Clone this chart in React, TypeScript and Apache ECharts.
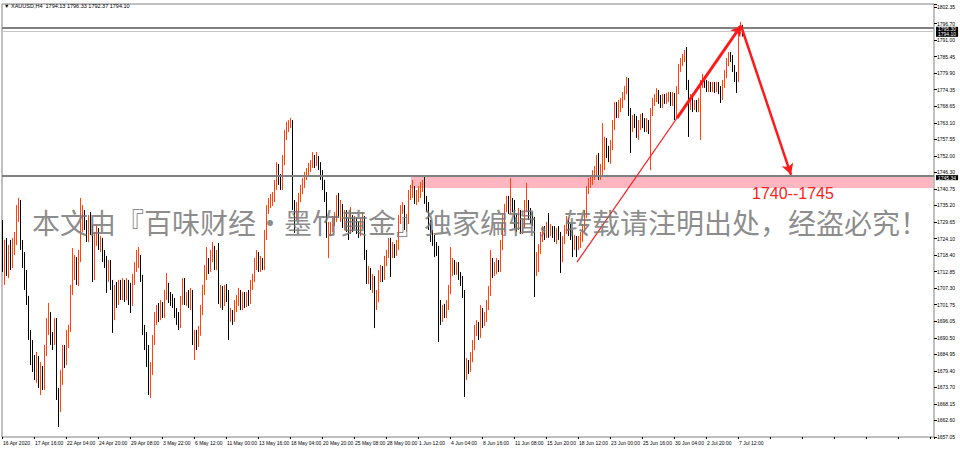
import React, { useEffect, useRef } from 'react';
import * as echarts from 'echarts';

const timeLabels = [
  '16 Apr 2020', '17 Apr 16:00', '22 Apr 04:00', '24 Apr 20:00', '29 Apr 08:00', '3 May 22:00',
  '6 May 12:00', '11 May 00:00', '13 May 16:00', '18 May 04:00', '20 May 20:00', '25 May 08:00',
  '28 May 00:00', '1 Jun 12:00', '4 Jun 04:00', '8 Jun 16:00', '11 Jun 08:00', '15 Jun 20:00',
  '18 Jun 12:00', '23 Jun 00:00', '25 Jun 16:00', '30 Jun 04:00', '2 Jul 20:00', '7 Jul 12:00',
];

const priceTicks = [
  '1657.05', '1662.60', '1668.15', '1673.70', '1679.40', '1684.95', '1690.50', '1696.05', '1701.75',
  '1707.30', '1712.85', '1718.40', '1724.10', '1729.65', '1735.20', '1740.75', '1746.30', '1752.00',
  '1757.55', '1763.10', '1768.65', '1774.35', '1779.90', '1785.45', '1791.00', '1796.70', '1802.35',
];

// [open, close, low, high]
const barsApr = [
  [1727.6,1715.1,1712.8,1730.3],[1715.1,1721.9,1708.4,1723.6],[1721.9,1713.4,1711.4,1724.3],[1713.4,1720.2,1710.7,1721.9],
  [1720.2,1716.1,1713.4,1723.6],[1716.1,1721.9,1714.1,1724.3],[1721.9,1724.3,1718.5,1726.3],[1724.3,1732.0,1721.9,1735.4],
  [1732.0,1736.1,1729.7,1737.8],[1736.1,1721.9,1720.2,1737.1],[1721.9,1717.5,1714.1,1723.6],[1717.5,1711.8,1706.7,1719.5],
  [1711.8,1703.3,1701.6,1713.4],[1703.3,1691.5,1689.8,1704.7],[1691.5,1684.7,1681.3,1693.2],[1684.7,1682.3,1679.0,1689.8],
  [1682.3,1680.3,1676.3,1684.7],[1680.3,1683.0,1675.3,1685.7],[1683.0,1674.9,1673.6,1684.4],[1674.9,1679.0,1671.2,1682.3],
  [1679.0,1674.6,1672.9,1681.0],[1674.6,1685.7,1672.9,1688.1],[1685.7,1693.2,1684.4,1697.2],[1693.2,1697.9,1691.5,1702.3],
  [1697.9,1690.5,1688.1,1699.2],[1690.5,1689.8,1686.4,1692.5],[1689.8,1695.9,1688.1,1697.2],[1695.9,1671.2,1669.5,1697.2],
  [1671.2,1666.8,1660.4,1673.6],[1666.8,1676.3,1665.4,1679.6],[1676.3,1684.7,1674.6,1688.1],[1684.7,1683.0,1680.3,1688.1],
  [1683.0,1689.8,1681.3,1693.2],[1689.8,1693.8,1687.1,1694.9],[1693.8,1706.7,1692.5,1708.4],[1706.7,1715.1,1705.0,1720.9],
  [1715.1,1716.1,1710.1,1718.5],[1716.1,1710.1,1708.4,1717.8],[1710.1,1717.5,1708.0,1720.2],[1717.5,1727.6,1716.1,1737.8],
  [1727.6,1732.0,1726.3,1735.4],[1732.0,1728.7,1727.0,1733.7],[1728.7,1724.3,1722.9,1730.3],[1724.3,1730.3,1722.9,1732.0],
  [1730.3,1727.6,1725.3,1733.0],[1727.6,1710.7,1709.4,1728.7],[1710.7,1723.6,1710.1,1726.3],[1723.6,1727.0,1721.6,1728.7],
  [1727.0,1721.9,1720.2,1727.6],[1721.9,1722.9,1719.5,1724.9],[1722.9,1718.5,1716.1,1724.3],[1718.5,1716.1,1714.1,1720.2],
  [1716.1,1710.7,1705.7,1718.2],[1710.7,1715.1,1709.4,1716.8],[1715.1,1709.1,1706.7,1716.8],[1709.1,1698.2,1692.2,1710.1],
  [1698.2,1706.7,1696.5,1708.4],[1706.7,1703.3,1700.6,1709.4],[1703.3,1708.4,1701.6,1710.1],[1708.4,1705.0,1703.3,1710.1],
  [1705.0,1708.4,1703.3,1710.7],[1708.4,1704.7,1702.6,1710.1],[1704.7,1708.7,1703.3,1710.7],[1708.7,1704.0,1701.6,1710.1],
  [1704.0,1702.6,1698.9,1709.1],[1702.6,1710.1,1701.3,1712.1],[1710.1,1714.1,1708.4,1716.1],[1714.1,1716.1,1712.8,1720.2],
  [1716.1,1716.8,1714.1,1721.2],[1716.8,1710.7,1709.4,1718.5],[1710.7,1693.2,1691.5,1711.8],[1693.2,1689.8,1686.4,1694.9],
  [1689.8,1686.4,1680.7,1692.5],[1686.4,1672.9,1671.2,1688.1],
];

const barsMay = [
  [1672.9,1679.6,1670.2,1682.3],[1679.6,1689.8,1678.0,1691.5],[1689.8,1697.2,1688.1,1699.2],[1697.2,1699.2,1694.9,1701.6],
  [1699.2,1697.9,1695.9,1702.3],[1697.9,1700.6,1696.5,1703.3],[1700.6,1698.9,1697.2,1702.6],[1698.9,1704.7,1697.2,1706.7],
  [1704.7,1707.4,1703.3,1712.4],[1707.4,1704.0,1702.3,1709.1],[1704.0,1703.3,1701.3,1706.0],[1703.3,1702.6,1700.6,1705.3],
  [1702.6,1699.2,1697.2,1704.0],[1699.2,1697.2,1694.9,1700.6],[1697.2,1695.5,1693.2,1699.2],[1695.5,1703.3,1693.8,1704.7],
  [1703.3,1709.4,1701.6,1710.7],[1709.4,1703.3,1701.6,1710.7],[1703.3,1704.0,1701.3,1706.0],[1704.0,1702.3,1700.6,1706.7],
  [1702.3,1705.3,1699.9,1707.4],[1705.3,1689.8,1688.1,1706.7],[1689.8,1691.2,1683.0,1693.2],[1691.2,1689.1,1686.4,1693.2],
  [1689.1,1692.5,1687.4,1694.5],[1692.5,1699.9,1691.2,1701.6],[1699.9,1706.7,1698.2,1708.4],[1706.7,1711.8,1705.0,1715.1],
  [1711.8,1715.5,1710.1,1721.2],[1715.5,1714.1,1712.1,1717.5],[1714.1,1718.2,1712.8,1720.2],[1718.2,1719.5,1716.1,1722.9],
  [1719.5,1715.1,1713.4,1721.6],[1715.1,1717.5,1713.4,1720.2],[1717.5,1703.3,1702.0,1722.6],[1703.3,1706.0,1700.6,1708.4],
  [1706.0,1702.3,1699.9,1708.0],[1702.3,1706.7,1701.3,1708.4],[1706.7,1704.7,1702.6,1708.7],[1704.7,1697.2,1689.8,1706.7],
  [1697.2,1698.6,1695.9,1700.6],[1698.6,1697.2,1694.9,1699.9],[1697.2,1701.3,1695.9,1703.3],[1701.3,1703.3,1699.2,1705.0],
  [1703.3,1705.3,1701.3,1707.4],[1705.3,1701.6,1699.9,1706.7],[1701.6,1704.3,1699.9,1706.0],[1704.3,1702.3,1700.6,1706.0],
  [1702.3,1704.7,1700.9,1706.0],[1704.7,1703.3,1701.3,1706.7],[1703.3,1708.4,1702.0,1710.1],[1708.4,1710.7,1706.7,1712.1],
  [1710.7,1715.1,1709.4,1717.5],[1715.1,1718.2,1713.4,1720.2],[1718.2,1714.1,1712.8,1719.5],[1714.1,1716.1,1712.8,1718.2],
  [1716.1,1714.8,1713.4,1717.5],[1714.8,1725.3,1713.4,1727.0],[1725.3,1733.7,1723.6,1735.4],[1733.7,1735.8,1732.4,1737.8],
  [1735.8,1737.1,1734.4,1739.1],[1737.1,1737.8,1735.1,1739.8],[1737.8,1742.2,1736.4,1743.9],[1742.2,1747.9,1740.5,1749.9],
  [1747.9,1743.9,1742.2,1749.3],[1743.9,1741.8,1740.5,1745.9],[1741.8,1750.6,1740.5,1752.3],[1750.6,1759.1,1748.9,1760.8],
  [1759.1,1761.4,1757.4,1763.5],[1761.4,1762.8,1760.1,1764.1],[1762.8,1763.5,1761.4,1764.8],[1763.5,1735.4,1733.7,1764.1],
  [1735.4,1732.4,1726.0,1737.1],[1732.4,1734.4,1730.3,1736.4],[1734.4,1737.8,1733.0,1739.5],[1737.8,1740.5,1736.4,1742.2],
  [1740.5,1742.5,1739.1,1744.5],[1742.5,1745.2,1741.2,1746.6],[1745.2,1746.6,1743.9,1747.9],[1746.6,1747.9,1745.2,1749.6],
  [1747.9,1748.9,1746.6,1750.6],[1748.9,1750.6,1747.9,1753.3],[1750.6,1749.6,1747.9,1752.3],[1749.6,1750.6,1748.6,1753.3],
  [1750.6,1748.6,1747.2,1752.0],[1748.6,1745.6,1743.9,1749.9],[1745.6,1742.2,1740.5,1747.2],[1742.2,1737.8,1736.4,1743.9],
  [1737.8,1726.3,1724.3,1739.8],[1726.3,1727.0,1717.5,1729.7],[1727.0,1727.6,1724.9,1729.7],[1727.6,1729.7,1726.3,1731.7],
  [1729.7,1731.0,1728.3,1733.0],[1731.0,1735.4,1729.7,1738.8],[1735.4,1733.0,1731.0,1739.5],[1733.0,1734.4,1729.7,1737.1],
  [1734.4,1729.7,1727.6,1735.8],[1729.7,1732.0,1727.0,1733.7],[1732.0,1728.3,1726.3,1733.7],[1728.3,1727.0,1723.6,1731.0],
  [1727.0,1729.7,1725.6,1734.7],[1729.7,1728.3,1726.3,1732.0],[1728.3,1729.7,1727.0,1731.7],[1729.7,1727.6,1725.6,1731.0],
  [1727.6,1726.3,1724.3,1729.7],[1726.3,1729.7,1724.9,1731.0],[1729.7,1730.3,1727.6,1733.0],[1730.3,1718.5,1716.8,1731.7],
  [1718.5,1710.7,1708.7,1720.2],[1710.7,1712.8,1708.7,1714.8],[1712.8,1708.7,1706.7,1714.1],[1708.7,1710.1,1705.7,1712.1],
  [1710.1,1702.0,1693.8,1711.4],[1702.0,1704.0,1699.9,1706.7],[1704.0,1711.8,1702.6,1713.4],[1711.8,1713.4,1709.4,1715.1],
  [1713.4,1711.4,1709.4,1714.8],[1711.4,1716.1,1710.1,1718.2],[1716.1,1718.9,1714.8,1720.2],[1718.9,1722.9,1717.5,1724.3],
  [1722.9,1720.2,1711.1,1724.3],[1720.2,1720.9,1717.5,1722.9],[1720.9,1719.5,1717.5,1722.2],[1719.5,1721.9,1718.2,1723.6],
  [1721.9,1730.3,1720.2,1732.0],[1730.3,1733.7,1729.0,1735.4],[1733.7,1734.4,1732.4,1736.4],[1734.4,1728.7,1727.0,1735.4],
  [1728.7,1730.3,1726.3,1732.4],[1730.3,1738.8,1729.0,1740.5],[1738.8,1739.8,1737.1,1742.2],
];

const barsJun = [
  [1739.8,1740.5,1737.8,1743.9],[1740.5,1737.1,1735.8,1741.8],[1737.1,1738.5,1735.4,1740.5],[1738.5,1739.8,1736.4,1741.8],
  [1739.8,1741.2,1737.8,1743.2],[1741.2,1742.2,1739.8,1743.9],[1742.2,1737.1,1735.8,1744.9],[1737.1,1735.1,1733.0,1738.5],
  [1735.1,1728.7,1727.0,1736.4],[1728.7,1724.9,1722.9,1730.3],[1724.9,1723.6,1721.6,1727.0],[1723.6,1720.9,1717.8,1725.3],
  [1720.9,1720.2,1718.2,1722.9],[1720.2,1700.6,1689.1,1721.6],[1700.6,1697.2,1694.9,1703.3],[1697.2,1699.9,1695.9,1701.6],
  [1699.9,1698.9,1697.2,1702.0],[1698.9,1701.6,1697.2,1703.3],[1701.6,1706.7,1699.9,1708.4],[1706.7,1714.1,1705.3,1721.2],
  [1714.1,1715.1,1711.4,1717.5],[1715.1,1713.4,1711.8,1716.8],[1713.4,1714.8,1711.8,1716.1],[1714.8,1711.4,1710.1,1716.1],
  [1711.4,1710.1,1708.0,1712.8],[1710.1,1705.7,1704.0,1711.4],[1705.7,1679.0,1670.5,1706.7],[1679.0,1681.3,1676.3,1683.7],
  [1681.3,1680.3,1678.3,1683.0],[1680.3,1683.7,1679.0,1685.7],[1683.7,1688.1,1682.3,1689.8],[1688.1,1692.5,1686.4,1694.9],
  [1692.5,1693.8,1691.2,1696.5],[1693.8,1692.2,1689.8,1695.9],[1692.2,1699.2,1690.5,1701.6],[1699.2,1695.9,1693.8,1700.6],
  [1695.9,1697.2,1694.5,1699.2],[1697.2,1701.6,1695.9,1703.3],[1701.6,1706.0,1699.9,1708.0],[1706.0,1715.1,1704.7,1720.2],
  [1715.1,1712.8,1710.7,1717.5],[1712.8,1714.1,1711.4,1716.1],[1714.1,1715.5,1712.1,1717.5],[1715.5,1714.1,1712.8,1716.8],
  [1714.1,1721.9,1712.8,1723.6],[1721.9,1727.6,1720.2,1732.7],[1727.6,1734.4,1726.3,1735.8],[1734.4,1737.1,1733.0,1738.5],
  [1737.1,1733.7,1732.4,1738.5],[1733.7,1735.8,1732.4,1744.5],[1735.8,1735.1,1733.0,1737.8],[1735.1,1730.3,1727.6,1737.1],
  [1730.3,1728.3,1726.3,1732.4],[1728.3,1732.4,1727.0,1734.4],[1732.4,1727.6,1725.6,1733.7],[1727.6,1728.7,1725.6,1731.0],
  [1728.7,1734.4,1727.6,1737.1],[1734.4,1735.4,1733.0,1742.8],[1735.4,1732.4,1730.3,1737.1],[1732.4,1731.0,1729.0,1734.4],
  [1731.0,1729.7,1728.3,1733.0],[1729.7,1714.1,1704.3,1731.4],[1714.1,1716.1,1711.4,1719.5],[1716.1,1720.2,1712.8,1722.2],
  [1720.2,1724.3,1718.9,1726.3],[1724.3,1726.3,1722.9,1728.3],[1726.3,1725.6,1723.6,1728.3],[1725.6,1727.6,1724.3,1729.7],
  [1727.6,1725.6,1724.3,1732.7],[1725.6,1727.0,1724.9,1729.0],[1727.0,1726.0,1724.3,1728.3],[1726.0,1724.3,1722.9,1728.3],
  [1724.3,1726.3,1722.2,1727.6],[1726.3,1724.9,1723.6,1728.3],[1724.9,1718.2,1712.4,1726.3],[1718.2,1723.6,1716.1,1724.9],
  [1723.6,1727.0,1722.2,1728.7],[1727.0,1729.7,1725.6,1731.7],[1729.7,1727.0,1724.9,1731.0],[1727.0,1725.6,1723.6,1729.0],
  [1725.6,1722.2,1717.8,1727.0],[1722.2,1723.6,1720.2,1725.3],[1723.6,1721.6,1717.8,1724.9],[1721.6,1722.9,1720.2,1724.9],
  [1722.9,1724.3,1720.9,1726.3],[1724.3,1727.6,1722.9,1729.0],[1727.6,1732.0,1726.3,1733.7],[1732.0,1740.5,1731.0,1741.8],
  [1740.5,1742.5,1739.1,1744.5],[1742.5,1743.9,1741.2,1745.6],[1743.9,1745.2,1742.2,1747.2],[1745.2,1746.6,1743.9,1748.6],
  [1746.6,1750.6,1745.2,1752.3],[1750.6,1745.2,1743.9,1753.0],[1745.2,1747.2,1743.9,1749.3],[1747.2,1748.9,1745.2,1763.1],
  [1748.9,1756.7,1747.2,1758.4],[1756.7,1753.3,1751.3,1758.1],[1753.3,1751.3,1749.9,1755.4],[1751.3,1755.4,1749.3,1757.4],
  [1755.4,1762.4,1754.0,1764.1],[1762.4,1768.9,1760.8,1770.2],[1768.9,1766.2,1764.8,1770.2],[1766.2,1768.2,1764.8,1770.9],
  [1768.2,1769.6,1766.8,1771.6],[1769.6,1772.3,1768.2,1773.6],[1772.3,1774.3,1770.9,1775.6],[1774.3,1777.7,1772.9,1778.7],
  [1777.7,1766.8,1765.5,1778.3],[1766.8,1762.1,1753.0,1768.2],[1762.1,1764.1,1760.1,1765.8],[1764.1,1763.5,1761.4,1766.2],
  [1763.5,1759.4,1758.1,1765.5],[1759.4,1762.1,1757.4,1764.1],[1762.1,1764.8,1760.8,1766.2],[1764.8,1762.8,1761.4,1766.5],
  [1762.8,1761.4,1760.1,1764.8],[1761.4,1762.8,1760.1,1764.8],[1762.8,1762.1,1759.4,1764.1],[1762.1,1766.8,1747.2,1768.2],
  [1766.8,1770.2,1765.5,1771.6],[1770.2,1771.6,1768.9,1772.9],[1771.6,1772.9,1770.2,1774.9],[1772.9,1770.9,1769.6,1774.3],
  [1770.9,1769.6,1768.2,1772.6],[1769.6,1771.6,1768.2,1772.9],[1771.6,1770.9,1769.6,1772.9],[1770.9,1771.9,1769.6,1773.3],
  [1771.9,1772.3,1770.2,1773.6],[1772.3,1770.2,1768.9,1773.6],[1770.2,1772.3,1768.9,1773.6],[1772.3,1765.5,1764.1,1773.3],
  [1765.5,1774.3,1764.5,1775.6],[1774.3,1781.7,1772.9,1783.1],[1781.7,1783.7,1780.4,1785.1],
];

const barsJul = [
  [1783.7,1785.1,1782.4,1786.4],[1785.1,1785.8,1783.7,1787.8],[1785.8,1775.6,1774.3,1788.8],[1775.6,1769.6,1758.4,1777.7],
  [1769.6,1771.6,1767.5,1772.9],[1771.6,1768.9,1766.8,1772.6],[1768.9,1769.6,1767.5,1770.9],[1769.6,1768.5,1766.8,1770.9],
  [1768.5,1769.6,1766.8,1771.6],[1769.6,1776.3,1757.4,1777.7],[1776.3,1778.0,1775.0,1779.7],[1778.0,1776.3,1775.0,1779.0],
  [1776.3,1775.0,1773.6,1777.7],[1775.0,1776.0,1773.6,1777.3],[1776.0,1775.0,1773.6,1777.0],[1775.0,1775.6,1773.6,1777.0],
  [1775.6,1775.0,1773.3,1777.0],[1775.0,1775.6,1773.6,1777.0],[1775.6,1774.3,1772.9,1777.0],[1774.3,1771.6,1769.9,1775.6],
  [1771.6,1776.3,1770.9,1777.7],[1776.3,1779.7,1775.0,1781.0],[1779.7,1783.7,1778.3,1785.1],[1783.7,1786.1,1782.4,1787.1],
  [1786.1,1785.1,1783.7,1787.1],[1785.1,1781.7,1780.4,1786.1],[1781.7,1779.0,1777.0,1782.7],[1779.0,1777.7,1773.3,1780.4],
  [1777.7,1794.6,1777.0,1795.9],[1794.6,1795.8,1793.2,1797.3],[1794.13,1794.10,1792.37,1796.33],
];

const resistanceLevel = 1795.3;
const bidLevel = 1794.1;
const supportLevel = 1745.34;
const zoneTop = 1745.3;
const zoneBottom = 1741.2;

const SLOTS = 466;

export default function App() {
  const ref = useRef<HTMLDivElement>(null);
  useEffect(() => {
    const chart = echarts.init(ref.current!, null, { renderer: 'svg' });
    const candles = [...barsApr, ...barsMay, ...barsJun, ...barsJul];
    const categories = Array.from({ length: SLOTS }, (_, i) => String(i));
    const boxLabel = (txt: string, dy: number) => ({
      show: true,
      position: 'end',
      distance: 2,
      offset: [0, dy],
      formatter: txt,
      backgroundColor: '#000',
      color: '#fff',
      fontSize: 5,
      lineHeight: 5,
      fontFamily: 'Liberation Sans',
      padding: [0, 2],
    });
    chart.setOption({
      animation: false,
      backgroundColor: '#fff',
      grid: { left: 2, right: 26, top: 4, bottom: 13, show: true, borderColor: '#808080', borderWidth: 1, backgroundColor: 'transparent' },
      xAxis: {
        type: 'category',
        data: categories,
        boundaryGap: true,
        axisLine: { show: false },
        axisTick: { show: true, interval: 15, length: 2, lineStyle: { color: '#000' } },
        axisLabel: {
          interval: 15,
          align: 'left',
          margin: 3,
          fontSize: 5,
          color: '#000',
          fontFamily: 'Liberation Sans',
          formatter: (_v: string, i: number) => (i % 16 === 0 && timeLabels[i / 16]) || '',
        },
        splitLine: { show: false },
      },
      yAxis: [
        {
          type: 'value',
          position: 'right',
          min: 1657.0,
          max: 1803.35,
          axisLabel: { show: false },
          axisLine: { show: false },
          axisTick: { show: false },
          splitLine: { show: false },
        },
        {
          type: 'value',
          position: 'right',
          min: 0,
          max: 26.18,
          interval: 1,
          axisLine: { show: false },
          axisTick: { show: true, length: 3, lineStyle: { color: '#000' } },
          splitLine: { show: false },
          axisLabel: {
            margin: 3,
            fontSize: 5,
            color: '#000',
            fontFamily: 'Liberation Sans',
            formatter: (v: number) => {
              const k = Math.round(v);
              return Math.abs(v - k) < 0.01 && priceTicks[k] ? priceTicks[k] : '';
            },
          },
        },
      ],
      series: [
        {
          type: 'line',
          data: [],
          z: 1,
          silent: true,
          markArea: {
            silent: true,
            itemStyle: { color: '#ffb6c1', opacity: 1 },
            data: [[{ coord: [204, zoneTop] }, { coord: [SLOTS - 1, zoneBottom] }]],
          },
        },
        {
          type: 'candlestick',
          data: candles,
          barWidth: 1,
          z: 3,
          itemStyle: {
            color: '#ff4500',
            color0: '#000000',
            borderColor: '#ff4500',
            borderColor0: '#000000',
            borderWidth: 1,
          },
          markLine: {
            silent: true,
            symbol: ['none', 'none'],
            animation: false,
            data: [
              {
                yAxis: resistanceLevel,
                lineStyle: { color: '#808080', width: 2, type: 'solid' },
                label: boxLabel(resistanceLevel.toFixed(2) + '\n' + bidLevel.toFixed(2), 4),
              },
              { yAxis: bidLevel, lineStyle: { color: '#c8c8c8', width: 1, type: 'solid' }, label: { show: false } },
              { yAxis: supportLevel, lineStyle: { color: '#808080', width: 2, type: 'solid' }, label: boxLabel(supportLevel.toFixed(2), 2) },
              [
                { coord: [287, 1716.1], symbol: 'none', lineStyle: { color: '#ff1a1a', width: 1.2, type: 'solid' }, label: { show: false } },
                { coord: [369, 1796.0], symbol: 'none' },
              ],
              [
                { coord: [337, 1764.8], symbol: 'none', lineStyle: { color: '#ff1a1a', width: 3, type: 'solid' }, label: { show: false } },
                { coord: [369, 1796.0], symbol: 'arrow', symbolSize: [9, 10] },
              ],
              [
                { coord: [369, 1796.0], symbol: 'none', lineStyle: { color: '#ff1a1a', width: 2.5, type: 'solid' }, label: { show: false } },
                { coord: [394, 1745.6], symbol: 'arrow', symbolSize: [9, 11] },
              ],
            ],
          },
        },
      ],
      graphic: [
        {
          type: 'text',
          left: 4,
          top: 3,
          z: 20,
          style: { text: '▼ XAUUSD,H4  1794.13 1796.33 1792.37 1794.10', fontSize: 5.5, fill: '#000', fontFamily: 'Liberation Sans' },
        },
        {
          type: 'text',
          x: 32,
          y: 222,
          z: 30,
          style: {
            text: '本文由『百味财经·墨竹黄金』独家编辑，转载请注明出处，经盗必究！',
            fontSize: 28,
            lineHeight: 28,
            fontFamily: 'Noto Sans CJK SC',
            fill: 'rgba(120,120,120,0.85)',
            verticalAlign: 'middle',
          },
        },
        {
          type: 'text',
          x: 752,
          y: 193,
          z: 30,
          style: { text: '1740--1745', fontSize: 16, lineHeight: 16, fontFamily: 'Liberation Sans', fill: '#ff2020', verticalAlign: 'middle' },
        },
      ],
    });
    return () => chart.dispose();
  }, []);
  return <div ref={ref} style={{ position: 'fixed', left: 0, top: 0, width: 960, height: 450, background: '#fff' }} />;
}
